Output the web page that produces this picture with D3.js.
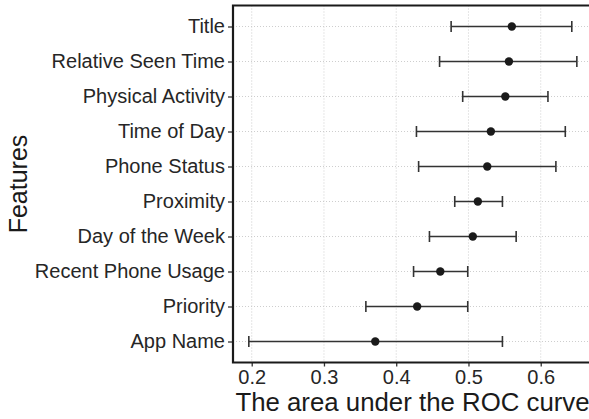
<!DOCTYPE html>
<html>
<head>
<meta charset="utf-8">
<script src="https://cdn.jsdelivr.net/npm/d3@7"></script>
<style>
  html, body { margin: 0; padding: 0; background: #fff; }
  svg { display: block; font-family: "Liberation Sans", Arial, Helvetica, sans-serif; }
</style>
</head>
<body>
<svg id="chart" width="589" height="419"></svg>
<script>
// Features, top to bottom
const features = [
  "Title", "Relative Seen Time", "Physical Activity", "Time of Day",
  "Phone Status", "Proximity", "Day of the Week", "Recent Phone Usage",
  "Priority", "App Name"
];
// Mean AUC per feature
const auc = [0.560, 0.556, 0.551, 0.531, 0.526, 0.513, 0.506, 0.461, 0.429, 0.371];
// Lower / upper bounds of the error bars
const aucLow = [0.476, 0.460, 0.492, 0.428, 0.431, 0.481, 0.446, 0.424, 0.358, 0.196];
const aucHigh = [0.643, 0.650, 0.610, 0.634, 0.621, 0.547, 0.566, 0.499, 0.499, 0.547];
// X axis ticks
const xTicks = [0.2, 0.3, 0.4, 0.5, 0.6];

const rows = features.map((f, i) => ({ f, m: auc[i], lo: aucLow[i], hi: aucHigh[i] }));

const svg = d3.select("#chart");
const panel = { left: 233, top: 5.5, right: 590, bottom: 362.5 };

const x = d3.scaleLinear().domain([0.1741, 0.6682]).range([panel.left, panel.right]);
const y = d3.scalePoint().domain(features).range([panel.top, panel.bottom]).padding(0.6);

// Grid lines
const grid = svg.append("g");
grid.selectAll("line.gx").data(xTicks).join("line")
  .attr("x1", d => x(d)).attr("x2", d => x(d))
  .attr("y1", panel.top).attr("y2", panel.bottom)
  .attr("stroke", "#c8c8c8").attr("stroke-width", 0.9).attr("stroke-dasharray", "1,2");
grid.selectAll("line.gy").data(features).join("line")
  .attr("x1", panel.left).attr("x2", panel.right)
  .attr("y1", d => y(d)).attr("y2", d => y(d))
  .attr("stroke", "#c8c8c8").attr("stroke-width", 0.9).attr("stroke-dasharray", "1,2");

// Axes
const xAxis = d3.axisBottom(x).tickValues(xTicks).tickFormat(d3.format(".1f")).tickSize(4).tickPadding(3);
const yAxis = d3.axisLeft(y).tickSize(5).tickPadding(3);

const gx = svg.append("g").attr("transform", `translate(0,${panel.bottom})`).call(xAxis);
gx.select(".domain").remove();
gx.selectAll(".tick line").attr("stroke", "#333").attr("stroke-width", 1.3);
gx.selectAll(".tick text").attr("font-size", 20).attr("fill", "#262626")
  .attr("font-family", "Liberation Sans, Arial, sans-serif");

const gy = svg.append("g").attr("transform", `translate(${panel.left},0)`).call(yAxis);
gy.select(".domain").remove();
gy.selectAll(".tick line").attr("stroke", "#333").attr("stroke-width", 1.3);
gy.selectAll(".tick text").attr("font-size", 20).attr("fill", "#262626")
  .attr("font-family", "Liberation Sans, Arial, sans-serif");

// Panel frame: left, top, bottom
const frame = svg.append("g").attr("stroke", "#1a1a1a").attr("stroke-width", 2.2).attr("fill", "none");
frame.append("path")
  .attr("d", `M${panel.right},${panel.top}H${panel.left}V${panel.bottom}H${panel.right}`);

// Error bars
const capH = 5.5;
const bars = svg.append("g").attr("stroke", "#333").attr("stroke-width", 1.6);
bars.selectAll("line.bar").data(rows).join("line")
  .attr("x1", d => x(d.lo)).attr("x2", d => x(d.hi))
  .attr("y1", d => y(d.f)).attr("y2", d => y(d.f));
bars.selectAll("line.capl").data(rows).join("line")
  .attr("x1", d => x(d.lo)).attr("x2", d => x(d.lo))
  .attr("y1", d => y(d.f) - capH).attr("y2", d => y(d.f) + capH);
bars.selectAll("line.caph").data(rows).join("line")
  .attr("x1", d => x(d.hi)).attr("x2", d => x(d.hi))
  .attr("y1", d => y(d.f) - capH).attr("y2", d => y(d.f) + capH);

// Points
svg.append("g").selectAll("circle").data(rows).join("circle")
  .attr("cx", d => x(d.m)).attr("cy", d => y(d.f)).attr("r", 4.2)
  .attr("fill", "#1a1a1a");

// Axis titles
svg.append("text")
  .attr("x", (panel.left + panel.right) / 2 + 1).attr("y", 410.5)
  .attr("text-anchor", "middle").attr("font-size", 25.8).attr("fill", "#1a1a1a")
  .text("The area under the ROC curve");
svg.append("text")
  .attr("transform", `translate(27,${(panel.top + panel.bottom) / 2}) rotate(-90)`)
  .attr("text-anchor", "middle").attr("font-size", 25).attr("fill", "#1a1a1a")
  .text("Features");
</script>
</body>
</html>
